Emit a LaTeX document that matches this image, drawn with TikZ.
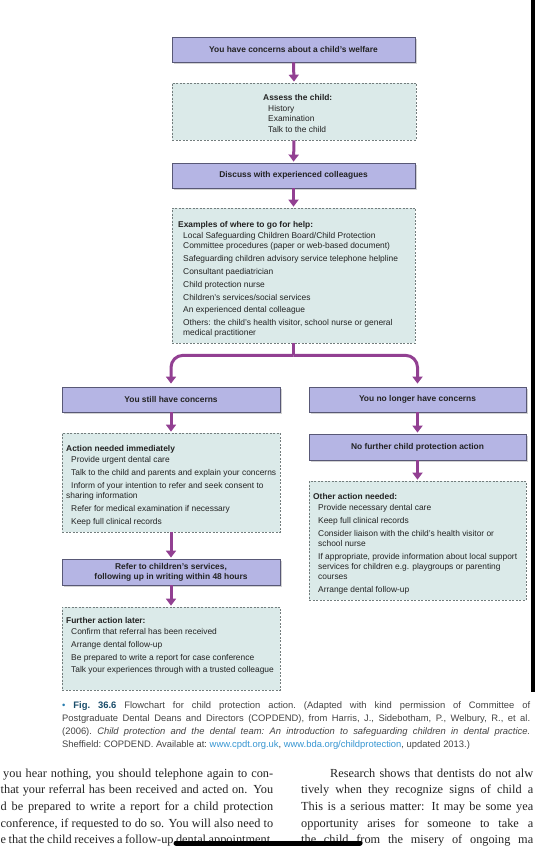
\documentclass[tikz,border=0pt]{standalone}
\usepackage{fontspec}
\setmainfont{Liberation Sans}
\newfontfamily\bookfont{Liberation Serif}
\usetikzlibrary{arrows.meta,shadows}

\definecolor{boxfill}{RGB}{181,181,228}
\definecolor{boxline}{RGB}{88,88,118}
\definecolor{notefill}{RGB}{219,234,233}
\definecolor{noteline}{RGB}{115,125,125}
\definecolor{flowpurple}{RGB}{146,64,146}
\definecolor{capblue}{RGB}{40,125,175}
\definecolor{linkblue}{RGB}{55,150,210}
\definecolor{inkgray}{RGB}{35,35,35}

\newcommand{\listind}{\hspace*{5pt}}
\newcommand{\fullline}[2]{\makebox[#1][s]{#2}}

\begin{document}
\begin{tikzpicture}[x=1pt,y=-1pt,
  stepbox/.style={draw=boxline,line width=0.8pt,fill=boxfill,inner sep=0pt,
    minimum width=243pt,minimum height=25pt,align=center,text=inkgray,
    font=\fontsize{8.4}{10}\selectfont\bfseries,
    drop shadow={shadow xshift=2pt,shadow yshift=-2pt,opacity=0.35}},
  notebox/.style={draw=noteline,line width=0.7pt,dash pattern=on 2pt off 1.5pt,
    fill=notefill,inner sep=0pt},
  notetext/.style={anchor=north west,inner sep=0pt,align=left,text=inkgray,
    font=\fontsize{8.4}{10.3}\selectfont},
  flow/.style={draw=flowpurple,line width=3pt,shorten >=1pt,
    -{Triangle[width=10pt,length=7pt]}},
  stem/.style={draw=flowpurple,line width=3pt},
  bookline/.style={inner sep=0pt,text=inkgray,font=\bookfont\fontsize{12.3}{16}\selectfont}]
\useasboundingbox (0,0) rectangle (535,850);
\fill[white] (0,0) rectangle (535,850);
\fill[black] (531,0) rectangle (535,692);

% main column
\node[stepbox] (concern) at (293.5,49.5) {You have concerns about a child's welfare};
\node[notebox,minimum width=244pt,minimum height=57pt] (assess) at (294,111.5) {};
\node[notetext] (assesstext) at (263,94) {\textbf{Assess the child:}\\[1pt]
  \listind History\\
  \listind Examination\\
  \listind Talk to the child};
\node[stepbox] (discuss) at (293.5,175.5) {Discuss with experienced colleagues};
\node[notebox,minimum width=243pt,minimum height=135pt] (examples) at (293.5,275.5) {};
\node[notetext] (examplestext) at (178,221) {\textbf{Examples of where to go for help:}\\[1pt]
  \listind Local Safeguarding Children Board/Child Protection\\
  \listind Committee procedures (paper or web-based document)\\[2.5pt]
  \listind Safeguarding children advisory service telephone helpline\\[2.5pt]
  \listind Consultant paediatrician\\[2.5pt]
  \listind Child protection nurse\\[2.5pt]
  \listind Children's services/social services\\[2.5pt]
  \listind An experienced dental colleague\\[2.5pt]
  \listind Others: the child's health visitor, school nurse or general\\
  \listind medical practitioner};

% left branch
\node[stepbox,minimum width=218pt] (still) at (171,399.5) {You still have concerns};
\node[notebox,minimum width=218pt,minimum height=99pt] (action) at (171,482.5) {};
\node[notetext] (actiontext) at (66,445) {\textbf{Action needed immediately}\\[1pt]
  \listind Provide urgent dental care\\[2.5pt]
  \listind Talk to the child and parents and explain your concerns\\[2.5pt]
  \listind Inform of your intention to refer and seek consent to\\
  sharing information\\[2.5pt]
  \listind Refer for medical examination if necessary\\[2.5pt]
  \listind Keep full clinical records};
\node[stepbox,minimum width=218pt,minimum height=26pt] (refer) at (171,572)
  {Refer to children's services,\\following up in writing within 48 hours};
\node[notebox,minimum width=218pt,minimum height=83pt] (further) at (171,648.5) {};
\node[notetext] (furthertext) at (66,617) {\textbf{Further action later:}\\[1pt]
  \listind Confirm that referral has been received\\[2.5pt]
  \listind Arrange dental follow-up\\[2.5pt]
  \listind Be prepared to write a report for case conference\\[2.5pt]
  \listind Talk your experiences through with a trusted colleague};

% right branch
\node[stepbox,minimum width=217pt] (nolonger) at (417.5,399.5) {You no longer have concerns};
\node[stepbox,minimum width=217pt,minimum height=26pt] (nofurther) at (417.5,447) {No further child protection action};
\node[notebox,minimum width=217pt,minimum height=119pt] (other) at (417.5,540.5) {};
\node[notetext] (othertext) at (313,493) {\textbf{Other action needed:}\\[1pt]
  \listind Provide necessary dental care\\[2.5pt]
  \listind Keep full clinical records\\[2.5pt]
  \listind Consider liaison with the child's health visitor or\\
  \listind school nurse\\[2.5pt]
  \listind If appropriate, provide information about local support\\
  \listind services for children e.g. playgroups or parenting\\
  \listind courses\\[2.5pt]
  \listind Arrange dental follow-up};

% connectors
\draw[flow] (concern.south) -- (assess.north);
\draw[flow] (assess.south) -- (discuss.north);
\draw[flow] (discuss.south) -- (examples.north);
\draw[stem] (examples.south) -- ++(0,12) coordinate (split);
\draw[flow,rounded corners=12pt,shorten >=3pt] (split) -| (still.north);
\draw[flow,rounded corners=12pt,shorten >=3pt] (split) -| (nolonger.north);
\draw[flow] (still.south) -- (action.north);
\draw[flow] (action.south) -- (refer.north);
\draw[flow] (refer.south) -- (further.north);
\draw[flow] (nolonger.south) -- (nofurther.north);
\draw[flow] (nofurther.south) -- (other.north);

% caption
\node[anchor=north west,inner sep=0pt,align=left,text=inkgray!85,
  font=\fontsize{9.4}{13.2}\selectfont\frenchspacing] (caption) at (62,701)
  {\fullline{468pt}{{\color{capblue}•} \textbf{\color{capblue!60!black}Fig.~36.6} Flowchart for child protection action. (Adapted with kind permission of Committee of}\\
   \fullline{468pt}{Postgraduate Dental Deans and Directors (COPDEND), from Harris, J., Sidebotham, P., Welbury, R., et al.}\\
   \fullline{468pt}{(2006). \textit{Child protection and the dental team: An introduction to safeguarding children in dental practice.}}\\
   Sheffield: COPDEND. Available at: {\color{linkblue}www.cpdt.org.uk}, {\color{linkblue}www.bda.org/childprotection}, updated 2013.)};

% page text below
\node[bookline,anchor=base west] (leftline1) at (3,777) {\fullline{270pt}{you hear nothing, you should telephone again to con-}};
\foreach \txt [count=\i from 2] in {{that your referral has been received and acted on. You},
  {d be prepared to write a report for a child protection},
  {conference, if requested to do so. You will also need to},
  {e that the child receives a follow-up dental appointment.}}
  \node[bookline,anchor=base west] (leftline\i) at (0.5,760.3+16.7*\i) {\fullline{272.5pt}{\txt}};
\node[bookline,anchor=base west] (rightline1) at (330,777) {\fullline{203pt}{Research shows that dentists do not alw}};
\foreach \txt [count=\i from 2] in {{tively when they recognize signs of child a},
  {This is a serious matter: It may be some yea},
  {opportunity arises for someone to take a},
  {the child from the misery of ongoing ma}}
  \node[bookline,anchor=base west] (rightline\i) at (301,760.3+16.7*\i) {\fullline{232pt}{\txt}};
\draw[line width=5pt,line cap=round] (176,843) -- (360,843);
\end{tikzpicture}
\end{document}
